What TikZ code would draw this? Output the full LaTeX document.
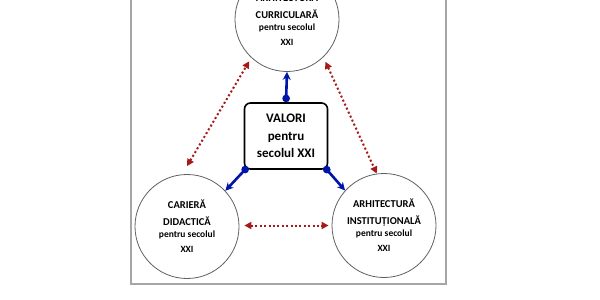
\documentclass[tikz,border=0pt]{standalone}
\usepackage{fontspec}
\setmainfont{Carlito}
\usetikzlibrary{arrows.meta, positioning, calc}

\definecolor{linkblue}{RGB}{0,20,170}
\definecolor{linkred}{RGB}{165,25,25}

\tikzset{
  circnode/.style={draw=gray!75!black, line width=0.8pt, circle, minimum size=104pt,
    inner sep=0pt, align=center, font=\bfseries\fontsize{10.5}{16}\selectfont},
  valbox/.style={draw, line width=1.6pt, rounded corners=6pt, minimum width=83pt,
    minimum height=66pt, align=center, font=\bfseries\fontsize{13}{17.5}\selectfont},
  bluelink/.style={line width=2.6pt, draw=linkblue,
    {Circle[length=7.5pt, fill=linkblue]}-{Stealth[length=8pt, width=8pt]}},
  redlink/.style={line width=2pt, draw=linkred, dash pattern=on 2pt off 2.4pt,
    {Triangle[length=7pt, width=7pt, fill=linkred]}-{Triangle[length=7pt, width=7pt, fill=linkred]}}
}
\newcommand{\sml}[1]{{\fontsize{9.5}{10}\selectfont #1}}

\begin{document}
\begin{tikzpicture}[x=1pt, y=-1pt]
  \useasboundingbox (0,0) rectangle (600,300);
  \clip (0,0) rectangle (600,300);
  % --- frame ---
  \draw[gray!70, line width=1.4pt] (131,-10) rectangle (446,284);

  % --- circles ---
  \node[circnode] (curr) at (287,19.5)
    {ARHITECTURĂ\\[1pt]CURRICULARĂ\\[-4pt]\sml{pentru secolul}\\[-1pt]\sml{XXI}};
  \node[circnode] (cariera) at (187,226.5)
    {CARIERĂ\\[1pt]DIDACTICĂ\\[-4pt]\sml{pentru secolul}\\[-1pt]\sml{XXI}};
  \node[circnode] (instit) at (384,225.5)
    {ARHITECTURĂ\\[1pt]INSTITUȚIONALĂ\\[-4pt]\sml{pentru secolul}\\[-1pt]\sml{XXI}};

  % --- central box ---
  \node[valbox] (valori) at (286,136) {VALORI\\pentru\\secolul XXI};

  % --- blue links ---
  \draw[bluelink] (valori.north) -- (curr.south);
  \draw[bluelink] ([shift={(4pt,3pt)}]valori.south west) -- (cariera.43);
  \draw[bluelink] ([shift={(-4pt,3pt)}]valori.south east) -- (instit.138);

  % --- red dotted links ---
  \draw[redlink, shorten >=4pt] ([yshift=8pt]cariera.north) -- (curr.227);
  \draw[redlink, shorten <=5pt] (curr.314) -- (instit.98);
  \draw[redlink, shorten <=5pt, shorten >=3pt] ([yshift=1pt]cariera.east) -- (instit.west);
\end{tikzpicture}
\end{document}
